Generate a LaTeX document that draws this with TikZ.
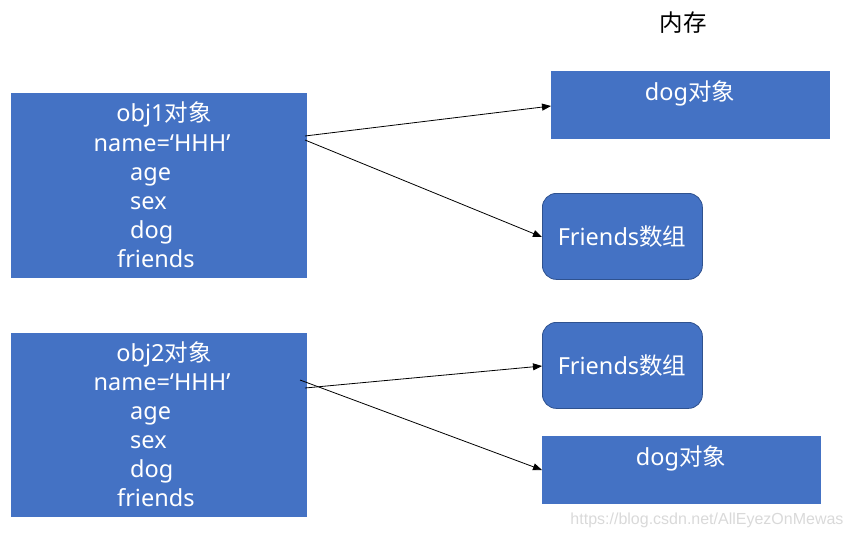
\documentclass[tikz,border=0pt]{standalone}
\usepackage{fontspec}
\setmainfont{Noto Sans}
\newfontfamily\cjk{Noto Sans CJK SC}
\newfontfamily\wmfont{Liberation Sans}
\usetikzlibrary{arrows.meta}
\definecolor{boxblue}{HTML}{4472C4}
\definecolor{edgeblue}{HTML}{2F528F}
\definecolor{wm}{HTML}{D9D9D9}
\begin{document}
\begin{tikzpicture}[x=1pt,y=-1pt,
  objbox/.style={fill=boxblue,draw=none,anchor=north west,inner sep=0pt},
  roundbox/.style={fill=boxblue,draw=edgeblue,line width=0.8pt,rounded corners=14pt,anchor=north west,inner sep=0pt},
  wtext/.style={text=white,font=\fontsize{23.5}{26}\selectfont,inner sep=0pt,text height=17pt,text depth=5pt,yshift=-2pt},
  ptr/.style={-{Triangle[length=9pt,width=7pt]},line width=0.8pt,black}]
\useasboundingbox (0,0) rectangle (852,539);
% left boxes
\node[objbox,minimum width=296pt,minimum height=185pt] (o1) at (11,93) {};
\node[objbox,minimum width=296pt,minimum height=184pt] (o2) at (11,333) {};
% right boxes
\node[objbox,minimum width=279pt,minimum height=68pt] (d1) at (551,71) {};
\node[roundbox,minimum width=160pt,minimum height=86pt] (f1) at (542,193) {};
\node[roundbox,minimum width=160pt,minimum height=86pt] (f2) at (542,322) {};
\node[objbox,minimum width=279pt,minimum height=68pt] (d2) at (542,436) {};
% texts of object 1
\node[wtext] (t11) at (164,113) {obj1{\cjk 对象}};
\node[wtext] (t12) at (162,143) {name=‘HHH’};
\node[wtext,anchor=west] (t13) at (130,172) {age};
\node[wtext,anchor=west] (t14) at (130,201) {sex};
\node[wtext,anchor=west] (t15) at (130,230) {dog};
\node[wtext,anchor=west] (t16) at (117,259) {friends};
% texts of object 2
\node[wtext] (t21) at (164,353) {obj2{\cjk 对象}};
\node[wtext] (t22) at (162,382) {name=‘HHH’};
\node[wtext,anchor=west] (t23) at (130,411) {age};
\node[wtext,anchor=west] (t24) at (130,440) {sex};
\node[wtext,anchor=west] (t25) at (130,469) {dog};
\node[wtext,anchor=west] (t26) at (117,498) {friends};
% right texts
\node[wtext] (td1) at (690,92) {dog{\cjk 对象}};
\node[wtext] (tf1) at (622,237) {Friends{\cjk 数组}};
\node[wtext] (tf2) at (622,366) {Friends{\cjk 数组}};
\node[wtext] (td2) at (681,457) {dog{\cjk 对象}};
\node[font=\cjk\fontsize{23.5}{26}\selectfont,inner sep=0pt] (mem) at (683,23) {内存};
\node[text=wm,font=\wmfont\fontsize{16}{18}\selectfont,inner sep=0pt] (wmk) at (707,520) {https://blog.csdn.net/AllEyezOnMewas};
% pointers
\coordinate (s1a) at (305,136);
\coordinate (s1b) at (305,140);
\coordinate (s2a) at (305,388);
\coordinate (s2b) at (300,380);
\coordinate (e1a) at (551,106);
\coordinate (e1b) at (542,237);
\coordinate (e2a) at (542,366);
\coordinate (e2b) at (542,470);
\draw[ptr] (s1a) -- (e1a);
\draw[ptr] (s1b) -- (e1b);
\draw[ptr] (s2a) -- (e2a);
\draw[ptr] (s2b) -- (e2b);
\end{tikzpicture}
\end{document}
